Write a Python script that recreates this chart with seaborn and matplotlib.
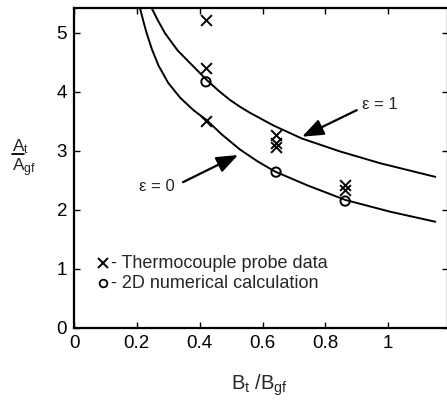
import numpy as np
import pandas as pd
import matplotlib
matplotlib.use("Agg")
import matplotlib.pyplot as plt
import seaborn as sns
from matplotlib.lines import Line2D

# ---- data ----
eps1_x = [0.247, 0.268, 0.290, 0.330, 0.380, 0.4225, 0.460, 0.497, 0.529, 0.560,
          0.635, 0.725, 0.847, 0.975, 1.150]
eps1_y = [5.42, 5.20, 4.99, 4.70, 4.43, 4.20, 4.02, 3.86, 3.745, 3.645,
          3.43, 3.21, 2.99, 2.79, 2.56]
eps0_x = [0.210, 0.222, 0.2315, 0.248, 0.2685, 0.300, 0.338, 0.380, 0.4225, 0.470,
          0.529, 0.585, 0.640, 0.741, 0.863, 1.006, 1.150]
eps0_y = [5.42, 5.17, 4.99, 4.72, 4.45, 4.15, 3.90, 3.69, 3.52, 3.28,
          3.02, 2.82, 2.65, 2.42, 2.17, 1.97, 1.80]

probe_x = [0.42, 0.42, 0.42, 0.643, 0.643, 0.643, 0.863, 0.863]
probe_y = [5.22, 4.41, 3.51, 3.27, 3.14, 3.07, 2.42, 2.33]
calc_x = [0.42, 0.643, 0.863]
calc_y = [4.17, 2.64, 2.15]

xticks = [0, 0.2, 0.4, 0.6, 0.8, 1]
xtick_labels = ["0", "0.2", "0.4", "0.6", "0.8", "1"]
yticks = [0, 1, 2, 3, 4, 5]
ytick_labels = ["0", "1", "2", "3", "4", "5"]

sns.set_style("ticks")
plt.rcParams['font.family'] = ['Liberation Sans', 'DejaVu Sans']
plt.rcParams['mathtext.fontset'] = 'custom'
plt.rcParams['mathtext.rm'] = 'Liberation Sans'
plt.rcParams['mathtext.it'] = 'Liberation Sans'

fig = plt.figure(figsize=(4.47, 4.12), dpi=100)
ax = fig.add_axes([74/447, 1 - 328/412, 1 - 74/447 + 0.002, (328 - 8)/412])

curves = pd.concat([
    pd.DataFrame({"x": eps1_x, "y": eps1_y, "c": "eps1"}),
    pd.DataFrame({"x": eps0_x, "y": eps0_y, "c": "eps0"}),
])
sns.lineplot(data=curves, x="x", y="y", units="c", estimator=None, sort=False,
             color="black", lw=1.4, ax=ax)

sns.scatterplot(x=probe_x, y=probe_y, marker="x", s=60, color="black",
                linewidth=1.4, ax=ax, zorder=3)
sns.scatterplot(x=calc_x, y=calc_y, marker="o", s=45, facecolor="none",
                edgecolor="black", linewidth=1.4, ax=ax, zorder=3)

ax.set_xlim(0, 1.19)
ax.set_ylim(0, 5.42)
ax.set_xticks(xticks)
ax.set_xticklabels(xtick_labels)
ax.set_yticks(yticks)
ax.set_yticklabels(ytick_labels)
ax.tick_params(direction="in", length=4, width=1, labelsize=13.5,
               top=True, right=True, pad=5, colors="black")
for s in ax.spines.values():
    s.set_linewidth(1.6)
    s.set_color("black")
ax.set_xlabel("")
ax.set_ylabel("")

# annotations
arrow = dict(arrowstyle="-|>,head_length=1.3,head_width=0.5",
             color="black", lw=1.6, shrinkA=0, shrinkB=0)
ax.annotate("", xy=(0.522, 2.93), xytext=(0.347, 2.47), arrowprops=arrow)
ax.text(0.264, 2.40, "ε = 0", fontsize=12, ha="center", va="center")
ax.annotate("", xy=(0.726, 3.24), xytext=(0.90, 3.69), arrowprops=arrow)
ax.text(0.975, 3.78, "ε = 1", fontsize=12, ha="center", va="center")

# in-plot legend
ax.plot([0.092], [1.10], marker="x", ms=7, mew=1.4, color="black", ls="none")
ax.text(0.118, 1.10, "- Thermocouple probe data", fontsize=13, va="center")
ax.plot([0.092], [0.76], marker="o", ms=5.5, mew=1.3, mfc="none", mec="black", ls="none")
ax.text(0.118, 0.76, "- 2D numerical calculation", fontsize=13, va="center")

# axis labels
fig.text(259/447, 1 - 385/412, r"B$_\mathrm{t}$ /B$_\mathrm{gf}$", fontsize=14.5,
         ha="center", va="center")
fig.text(12/447, 1 - 151/412, r"A$_\mathrm{t}$", fontsize=12.5, ha="left", va="baseline")
fig.text(12/447, 1 - 171/412, r"A$_\mathrm{gf}$", fontsize=12.5, ha="left", va="baseline")
fig.add_artist(Line2D([12/447, 24/447], [1 - 153.5/412, 1 - 153.5/412], color="black", lw=1.3))

fig.savefig("out.png", dpi=100)
